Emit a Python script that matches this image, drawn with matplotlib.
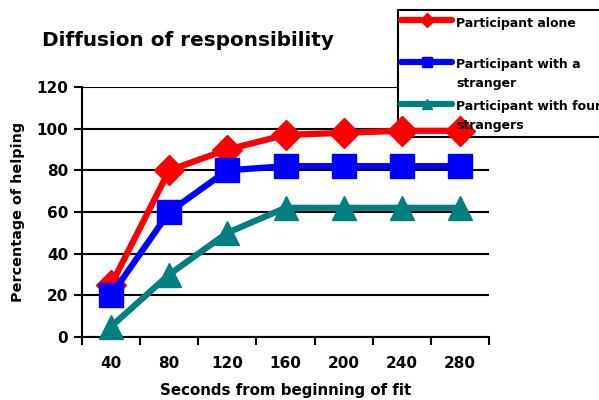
import matplotlib
matplotlib.use("Agg")
import matplotlib.pyplot as plt
from matplotlib.lines import Line2D
from matplotlib.patches import Rectangle
import numpy as np

categories = ["40", "80", "120", "160", "200", "240", "280"]
alone = [25, 80, 90, 97, 98, 99, 99]
with_one = [20, 60, 80, 82, 82, 82, 82]
with_four = [5, 30, 50, 62, 62, 62, 62]
labels = ["Participant alone", "Participant with a\nstranger", "Participant with four\nstrangers"]
colors = ["#FF0000", "#0000FF", "#008080"]
markers = ["D", "s", "^"]

plt.rcParams['font.family'] = ['DejaVu Sans']
plt.rcParams['font.weight'] = 'bold'

W, H = 599, 400
fig = plt.figure(figsize=(5.99, 4.0), dpi=100)
ax = fig.add_axes([82/W, 63/H, 407/W, 250/H])

x = np.arange(len(categories))
msizes = [15, 17, 17]
for vals, c, m, ms, lab in zip([alone, with_one, with_four], colors, markers, msizes, labels):
    ax.plot(x, vals, color=c, marker=m, markersize=ms, linewidth=4.5, label=lab,
            markeredgecolor=c, clip_on=False, zorder=3)

ax.set_xlim(-0.5, len(categories) - 0.5)
ax.set_ylim(0, 120)
ax.set_yticks(np.arange(0, 121, 20))
ax.set_xticks(x)
ax.set_xticklabels(categories)
ax.set_xticks(np.arange(-0.5, len(categories), 1), minor=True)
ax.tick_params(axis='x', which='major', length=0, pad=14, labelsize=11)
ax.tick_params(axis='x', which='minor', length=6, width=1.5, direction='out')
ax.tick_params(axis='y', length=6, width=1.5, labelsize=11, pad=4)
for t in ax.get_xticklabels() + ax.get_yticklabels():
    t.set_fontweight('bold')
ax.yaxis.grid(True, color='black', linewidth=1.5)
ax.set_axisbelow(True)
for s in ['top', 'right']:
    ax.spines[s].set_visible(False)
for s in ['left', 'bottom']:
    ax.spines[s].set_linewidth(1.5)
ax.set_xlabel("Seconds from beginning of fit", fontsize=10.8, fontweight='bold', labelpad=8)
ax.set_ylabel("Percentage of helping", fontsize=10.4, fontweight='bold', labelpad=8)

fig.text(42/W, 1 - 40/H, "Diffusion of responsibility", fontsize=14.4, fontweight='bold',
         va='center', ha='left')

# Manual legend (box runs off the right edge like the reference); drawn between grid and data
ft = fig.transFigure
ax.add_patch(Rectangle((398/W, 1 - 137/H), 230/W, 127/H, transform=ft, clip_on=False,
                       facecolor='white', edgecolor='black', linewidth=1.5, zorder=2))
handle_y = [20, 62, 104]
text_y = [23, 74, 116]
for c, m, hy, ty, lab in zip(colors, markers, handle_y, text_y, labels):
    ax.add_line(Line2D([401/W, 452/W], [1 - hy/H, 1 - hy/H], transform=ft, clip_on=False,
                       color=c, linewidth=4.5, solid_capstyle='round', zorder=2.1))
    ax.add_line(Line2D([426.5/W], [1 - hy/H], transform=ft, color=c, clip_on=False,
                       marker=m, markersize=7, linestyle='none', zorder=2.2))
    ax.text(456/W, 1 - ty/H, lab, transform=ft, fontsize=9, fontweight='bold', va='center',
            ha='left', linespacing=1.55, zorder=4, clip_on=False)

fig.savefig("out.png", dpi=100)
